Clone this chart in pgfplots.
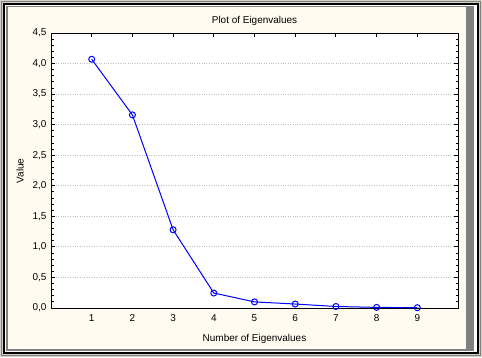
\documentclass[border=0pt]{standalone}
\usepackage{pgfplots}
\pgfplotsset{compat=1.18}
\usepackage{fontspec}
\setmainfont{Liberation Sans}
\definecolor{cream}{RGB}{255,251,240}
\definecolor{wingray}{RGB}{128,128,128}
\definecolor{winlight}{RGB}{212,208,200}
\begin{document}
\begin{tikzpicture}[x=1bp,y=1bp]
% window frame
\fill[winlight] (0,0) rectangle (482,357);
\draw[wingray,line width=1bp] (1.5,1.5) rectangle (480.5,355.5);
\draw[black,line width=2bp] (4,4) rectangle (478,353);
\fill[white] (5,5) rectangle (477,352);
\fill[wingray] (6,6) rectangle (474,351);
\fill[cream] (8,8) rectangle (466,350);
\begin{axis}[
  at={(51bp,49bp)}, anchor=south west,
  scale only axis, width=407bp, height=275bp,
  xmin=0, xmax=10, ymin=0, ymax=4.5,
  axis background/.style={fill=white},
  axis line style={black, line width=1bp},
  xtick={1,2,...,9},
  xtick pos=right, xticklabel pos=left,
  ytick={0,0.5,...,4.5},
  minor y tick num=4,
  ytick pos=both,
  tick align=inside,
  major tick length=4bp, minor tick length=2.5bp,
  tick style={black, line width=1bp},
  ymajorgrids,
  major grid style={gray!50, dotted, line width=1bp},
  tick label style={font=\fontsize{10}{12}\selectfont},
  /pgf/number format/assume math mode=true,
  yticklabel style={xshift=-1bp, /pgf/number format/.cd, use comma, fixed, fixed zerofill, precision=1},
  xticklabel style={yshift=-3bp, /pgf/number format/.cd, fixed, precision=0},
  clip=false,
]
\addplot[blue, line width=1bp, mark=o, mark size=3bp, mark options={fill=white, line width=1bp}]
 coordinates {(1,4.07) (2,3.16) (3,1.28) (4,0.245) (5,0.10) (6,0.065) (7,0.025) (8,0.01) (9,0.005)};
\end{axis}
\node[font=\fontsize{10}{12}\selectfont] at (254.5,336) {Plot of Eigenvalues};
\node[font=\fontsize{10}{12}\selectfont] at (254.5,18) {Number of Eigenvalues};
\node[font=\fontsize{10}{12}\selectfont, rotate=90] at (20,186) {Value};
\end{tikzpicture}
\end{document}
